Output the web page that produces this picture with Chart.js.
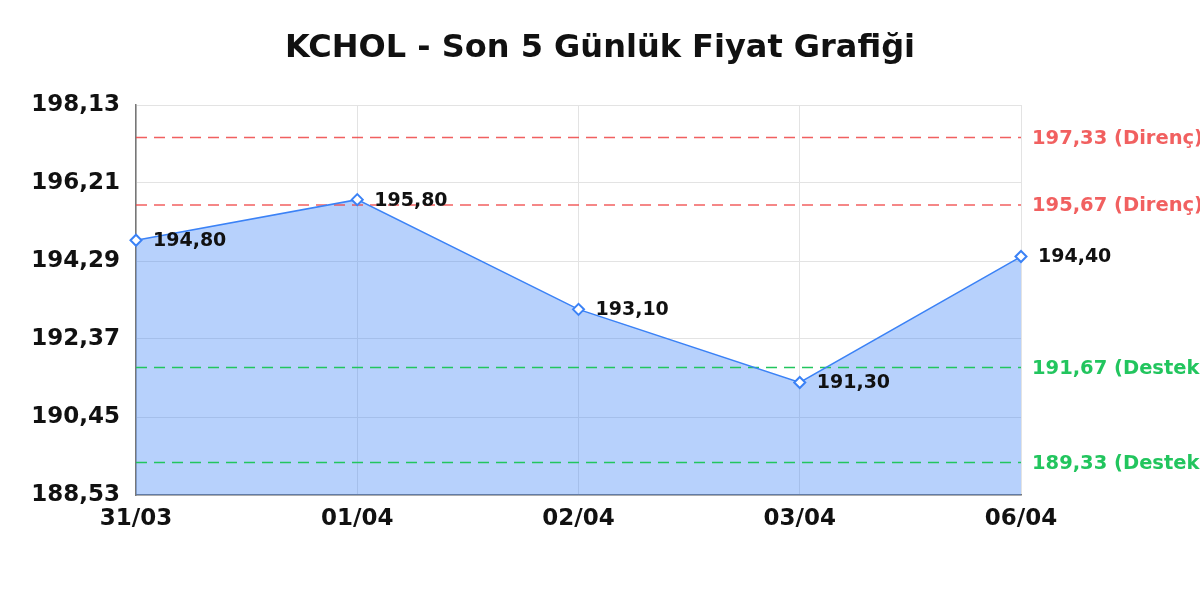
<!DOCTYPE html>
<html>
<head>
<meta charset="utf-8">
<script src="https://cdn.jsdelivr.net/npm/chart.js@4"></script>
<style>
  html, body { margin: 0; padding: 0; background: #fff; }
  #wrap { width: 1200px; height: 600px; }
</style>
</head>
<body>
<div id="wrap"><canvas id="fiyatChart"></canvas></div>
<script>
// gunler ve kapanis fiyatlari
const days = ['31/03', '01/04', '02/04', '03/04', '06/04'];
const prices = [194.80, 195.80, 193.10, 191.30, 194.40];

// y ekseni etiketleri
const yTicks = [188.53, 190.45, 192.37, 194.29, 196.21, 198.13];

// destek / direnc seviyeleri
const levelValues = [197.33, 195.67, 191.67, 189.33];
const levelKinds = ['Direnç', 'Direnç', 'Destek', 'Destek'];

const RED = 'rgba(239, 68, 68, 0.85)';
const GREEN = 'rgba(34, 197, 94, 1)';
const FONT = '"DejaVu Sans", Verdana, sans-serif';

function fmt(v) {
    return v.toFixed(2).replace('.', ',');
}

// kesikli seviye cizgileri (dolgunun ustunde, cizginin altinda) + sagdaki etiketler
const levelPlugin = {
    id: 'levels',
    beforeDatasetDraw(chart) {
        const { ctx, chartArea } = chart;
        const y = chart.scales.y;
        ctx.save();
        levelValues.forEach((v, i) => {
            const py = y.getPixelForValue(v);
            ctx.strokeStyle = levelKinds[i] === 'Direnç' ? RED : GREEN;
            ctx.lineWidth = 1.6;
            ctx.setLineDash([11, 7]);
            ctx.beginPath();
            ctx.moveTo(chartArea.left, py);
            ctx.lineTo(chartArea.right, py);
            ctx.stroke();
        });
        ctx.restore();
    },
    afterDraw(chart) {
        const { ctx, chartArea } = chart;
        const y = chart.scales.y;
        ctx.save();
        ctx.font = 'bold 19.5px ' + FONT;
        ctx.textBaseline = 'middle';
        ctx.textAlign = 'left';
        levelValues.forEach((v, i) => {
            ctx.fillStyle = levelKinds[i] === 'Direnç' ? RED : GREEN;
            ctx.fillText(fmt(v) + ' (' + levelKinds[i] + ')', chartArea.right + 11, y.getPixelForValue(v) + 1);
        });
        ctx.restore();
    }
};

// nokta degerleri
const pointLabels = {
    id: 'pointLabels',
    afterDatasetsDraw(chart) {
        const { ctx } = chart;
        const meta = chart.getDatasetMeta(0);
        ctx.save();
        ctx.font = 'bold 19px ' + FONT;
        ctx.fillStyle = '#111';
        ctx.textBaseline = 'middle';
        ctx.textAlign = 'left';
        meta.data.forEach((pt, i) => {
            ctx.fillText(fmt(prices[i]), pt.x + 17, pt.y + 1);
        });
        ctx.restore();
    }
};

new Chart(document.getElementById('fiyatChart'), {
    type: 'line',
    data: {
        labels: days,
        datasets: [{
            data: prices,
            borderColor: '#3b82f6',
            borderWidth: 1.5,
            backgroundColor: 'rgba(59, 130, 246, 0.37)',
            fill: 'start',
            tension: 0,
            pointStyle: 'rectRot',
            pointRadius: 5.5,
            pointBorderWidth: 2,
            pointBackgroundColor: '#fff',
            pointBorderColor: '#3b82f6'
        }]
    },
    options: {
        responsive: true,
        maintainAspectRatio: false,
        animation: false,
        layout: { padding: 0 },
        plugins: {
            legend: { display: false },
            tooltip: { enabled: false },
            title: {
                display: true,
                text: 'KCHOL - Son 5 Günlük Fiyat Grafiği',
                color: '#111',
                font: { family: FONT, size: 32, weight: 'bold' },
                padding: { top: 29, bottom: 37.6 }
            }
        },
        scales: {
            x: {
                offset: false,
                grid: { color: '#e3e3e3', drawTicks: false },
                border: { color: '#777', width: 1.5 },
                ticks: {
                    color: '#111',
                    padding: 10,
                    font: { family: FONT, size: 23, weight: 'bold' },
                    maxRotation: 0
                },
                afterFit(scale) { scale.height = 105; }
            },
            y: {
                min: yTicks[0],
                max: yTicks[yTicks.length - 1],
                grid: { color: '#e3e3e3', drawTicks: false },
                border: { color: '#777', width: 1.5 },
                ticks: {
                    color: '#111',
                    padding: 16,
                    font: { family: FONT, size: 23, weight: 'bold' },
                    callback: (v) => fmt(v)
                },
                afterBuildTicks(scale) {
                    scale.ticks = yTicks.map(v => ({ value: v }));
                },
                afterFit(scale) { scale.width = 136; }
            },
            yRight: {
                position: 'right',
                display: true,
                grid: { display: false },
                border: { display: false },
                ticks: { display: false },
                afterFit(scale) { scale.width = 179; }
            }
        }
    },
    plugins: [levelPlugin, pointLabels]
});
</script>
</body>
</html>
